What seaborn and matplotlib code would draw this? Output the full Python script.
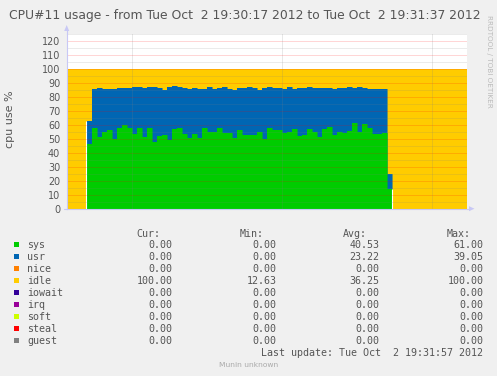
import numpy as np
import pandas as pd
import matplotlib
matplotlib.use("Agg")
import matplotlib.pyplot as plt
import seaborn as sns
from matplotlib.patches import Rectangle, Polygon
from matplotlib.lines import Line2D

W, H = 497, 376

# ---------------- data ----------------
title = "CPU#11 usage - from Tue Oct  2 19:30:17 2012 to Tue Oct  2 19:31:37 2012"
ylabel = "cpu use %"
last_update = "Last update: Tue Oct  2 19:31:57 2012"
footer = "Munin unknown"
side_text = "RRDTOOL / TOBI OETIKER"

lead_idle_steps = 4      # seconds of 100% idle before the samples
trail_idle_steps = 15    # seconds of 100% idle after the samples

sys_vals = [46.2, 57.6, 51.2, 54.8, 56.2, 49.8, 57.6, 59.6, 57.6, 53.4,
            57.6, 51.2, 57.6, 47.9, 51.9, 52.6, 49.1, 56.9, 57.6, 53.4,
            50.5, 53.4, 50.2, 57.6, 54.9, 54.9, 57.6, 53.8, 53.8, 50.7,
            56.2, 52.6, 52.6, 52.6, 54.8, 49.8, 57.6, 56.2, 56.2, 53.8,
            54.8, 56.9, 51.9, 52.6, 56.9, 54.8, 51.2, 56.9, 58.3, 52.6,
            54.8, 53.8, 55.5, 61.0, 54.8, 60.5, 57.6, 53.4, 53.4, 53.8,
            14.0]
usr_vals = [16.4, 27.7, 34.8, 30.8, 29.4, 35.8, 28.4, 26.4, 28.4, 33.5,
            29.3, 35.3, 29.3, 39.05, 34.3, 32.4, 37.9, 30.47, 29.4, 32.8,
            35.2, 32.8, 35.5, 27.7, 32.1, 30.8, 28.6, 33.2, 31.9, 34.3,
            29.8, 33.9, 34.3, 33.6, 30.2, 36.4, 29.3, 30.0, 30.0, 31.8,
            32.1, 28.7, 34.3, 33.6, 30.0, 31.4, 35.0, 29.3, 27.9, 33.0,
            31.4, 32.4, 31.4, 25.0, 32.1, 25.7, 28.0, 32.2, 32.2, 31.8,
            10.8]

y_major = list(range(0, 121, 10))
y_minor = list(range(5, 126, 10))
x_grid_seconds = [13, 43, 73]

legend_names = ["sys", "usr", "nice", "idle", "iowait", "irq", "soft", "steal", "guest"]
legend_colors = ["#00CC00", "#0066B3", "#FF8000", "#FFCC00", "#330099",
                 "#990099", "#CCFF00", "#FF0000", "#808080"]
cur_vals = ["0.00", "0.00", "0.00", "100.00", "0.00", "0.00", "0.00", "0.00", "0.00"]
min_vals = ["0.00", "0.00", "0.00", "12.63", "0.00", "0.00", "0.00", "0.00", "0.00"]
avg_vals = ["40.53", "23.22", "0.00", "36.25", "0.00", "0.00", "0.00", "0.00", "0.00"]
max_vals = ["61.00", "39.05", "0.00", "100.00", "0.00", "0.00", "0.00", "0.00", "0.00"]
col_headers = ["Cur:", "Min:", "Avg:", "Max:"]

# ---------------- build series ----------------
sys_full = [0.0] * lead_idle_steps + sys_vals + [0.0] * trail_idle_steps
usr_full = [0.0] * lead_idle_steps + usr_vals + [0.0] * trail_idle_steps
n = len(sys_full)
t = np.arange(n + 1)
sys_e = np.array(sys_full + [sys_full[-1]])
usr_e = np.array(usr_full + [usr_full[-1]])
idle_e = 100.0 - sys_e - usr_e
top_sys = sys_e
top_usr = sys_e + usr_e
top_idle = top_usr + idle_e

df = pd.DataFrame({"t": t, "sys": top_sys, "usr": top_usr, "idle": top_idle})

# ---------------- style ----------------
sns.set_style("white")
plt.rcParams["font.family"] = ["DejaVu Sans"]
BG = "#F0F0F0"
TXT = "#555555"
AXC = "#C8C8F5"

fig = plt.figure(figsize=(W / 100, H / 100), dpi=100, facecolor=BG)

def fx(x):
    return x / W

def fy(y):
    return 1 - y / H

ax_left, ax_right, ax_top, ax_bot = 66.7, 466.7, 33.7, 208.7
ax = fig.add_axes([fx(ax_left), fy(ax_bot), (ax_right - ax_left) / W, (ax_bot - ax_top) / H])
ax.set_facecolor("white")

# stacked areas (draw cumulative tops from the baseline)
ax.fill_between(df["t"], 0, df["idle"], step="post", color=legend_colors[3], lw=0, zorder=1)
ax.fill_between(df["t"], 0, df["usr"], step="post", color=legend_colors[1], lw=0, zorder=1.1)
ax.fill_between(df["t"], 0, df["sys"], step="post", color=legend_colors[0], lw=0, zorder=1.2)
sns.lineplot(data=df, x="t", y="usr", drawstyle="steps-post", color=legend_colors[1],
             lw=0.4, ax=ax, zorder=1.15)
sns.lineplot(data=df, x="t", y="sys", drawstyle="steps-post", color=legend_colors[0],
             lw=0.4, ax=ax, zorder=1.25)

# thin white seams where the samples start / stop (as rrdtool renders them)
t_start = lead_idle_steps
t_end = lead_idle_steps + len(sys_vals)
ax.vlines([t_start - 0.1], 0, [sys_vals[0] + usr_vals[0]], color="white", lw=0.8, zorder=1.3)
ax.vlines([t_end + 0.1], 0, [sys_vals[-1]], color="white", lw=0.8, zorder=1.3)

ax.set_xlim(0, n)
ax.set_ylim(0, 125)
ax.set_xlabel("")
ax.set_ylabel("")

ax.set_yticks(y_major)
ax.set_yticks(y_minor, minor=True)
ax.set_yticklabels([str(v) for v in y_major])
ax.set_xticks(x_grid_seconds)
ax.set_xticklabels([])

ax.set_axisbelow(False)
dot = (0, (1, 1))
ax.grid(False)
for v in y_major:
    ax.axhline(v, color=(1, 0, 0, 0.32), lw=0.72, ls=dot, zorder=3)
for v in y_minor:
    ax.axhline(v, color=(0.5, 0.5, 0.5, 0.3), lw=0.72, ls=dot, zorder=3)
for v in x_grid_seconds:
    ax.axvline(v, color=(0.5, 0.5, 0.5, 0.35), lw=0.72, ls=dot, zorder=3)

ax.tick_params(axis="y", which="major", length=2.2, width=0.7, color=(1, 0, 0, 0.4),
               labelsize=6.9, labelcolor=TXT, pad=2.4)
ax.tick_params(axis="y", which="minor", length=1.5, width=0.7, color=(0.5, 0.5, 0.5, 0.4))
ax.tick_params(axis="x", which="major", length=1.5, width=0.7, color=(0.5, 0.5, 0.5, 0.4))

for s in ["top", "right"]:
    ax.spines[s].set_visible(False)
for s in ["left", "bottom"]:
    ax.spines[s].set_color(AXC)
    ax.spines[s].set_linewidth(0.8)
    ax.spines[s].set_zorder(4)

# axis arrows
fig.add_artist(Line2D([fx(ax_left), fx(ax_left)], [fy(ax_top), fy(30)], color=AXC, lw=0.8))
fig.add_artist(Polygon([(fx(64.2), fy(31)), (fx(69.2), fy(31)), (fx(66.7), fy(25))],
                       closed=True, color=AXC, lw=0))
fig.add_artist(Line2D([fx(63.5), fx(ax_left)], [fy(ax_bot), fy(ax_bot)], color=AXC, lw=0.8))
fig.add_artist(Line2D([fx(ax_right), fx(469.5)], [fy(ax_bot), fy(ax_bot)], color=AXC, lw=0.8))
fig.add_artist(Polygon([(fx(469), fy(206.2)), (fx(469), fy(211.2)), (fx(474.5), fy(208.7))],
                       closed=True, color=AXC, lw=0))

# title & labels
fig.text(fx(245), fy(19), title, ha="center", va="baseline", fontsize=8.9, color=TXT)
fig.text(fx(10.5), fy(119.5), ylabel, ha="center", va="center", rotation=90,
         fontsize=8, color=TXT)
fig.text(fx(488.5), fy(15), side_text, ha="center", va="top", rotation=270,
         fontsize=5.2, color="#BBBBBB")

# legend table
MONO = "DejaVu Sans Mono"
LFS = 7.2
header_x = [136.7, 240.0, 343.3, 446.7]
value_right = [172.3, 276.3, 379.3, 483.3]
for hx, h in zip(header_x, col_headers):
    fig.text(fx(hx), fy(236.7), h, ha="left", va="baseline", fontsize=LFS,
             family=MONO, color=TXT)
for i, name in enumerate(legend_names):
    yb = 248.5 + 12 * i
    yc = 244.8 + 12 * i
    fig.add_artist(Rectangle((fx(14.0), fy(yc + 2.6)), 5.2 / W, 5.2 / H,
                             transform=fig.transFigure, color=legend_colors[i], lw=0))
    fig.text(fx(27), fy(yb), name, ha="left", va="baseline", fontsize=LFS,
             family=MONO, color=TXT)
    for xr, col in zip(value_right, [cur_vals, min_vals, avg_vals, max_vals]):
        fig.text(fx(xr), fy(yb), col[i], ha="right", va="baseline", fontsize=LFS,
                 family=MONO, color=TXT)

fig.text(fx(483.3), fy(355.7), last_update, ha="right", va="baseline", fontsize=LFS,
         family=MONO, color=TXT)
fig.text(fx(248.5), fy(367.3), footer, ha="center", va="baseline", fontsize=5.4,
         color="#AAAAAA")

fig.savefig("out.png", dpi=100, facecolor=BG)
